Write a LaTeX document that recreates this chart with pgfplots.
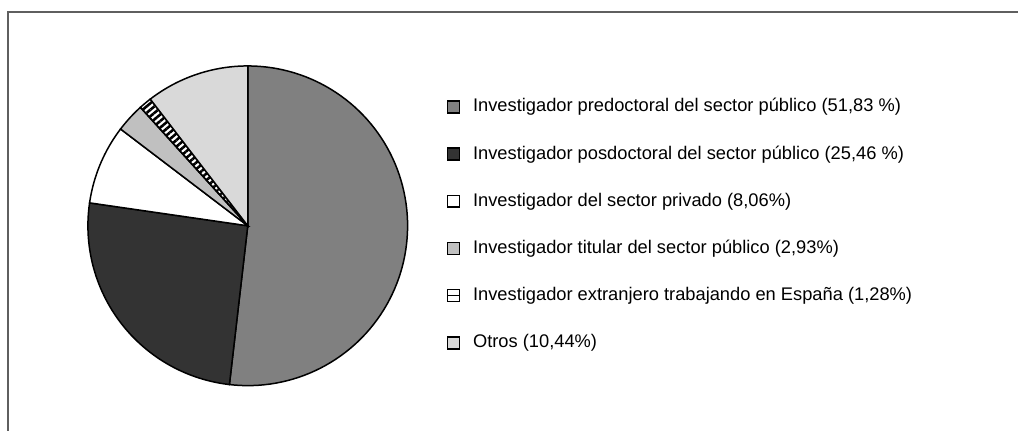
\documentclass[border=0pt]{standalone}
\usepackage{pgfplots}
\pgfplotsset{compat=1.18}
\usepackage{fontspec}
\setmainfont{Liberation Sans}
\usetikzlibrary{patterns.meta}
\definecolor{cA}{RGB}{128,128,128}
\definecolor{cB}{RGB}{51,51,51}
\definecolor{cC}{RGB}{255,255,255}
\definecolor{cD}{RGB}{192,192,192}
\definecolor{cF}{RGB}{217,217,217}
\definecolor{frame}{RGB}{95,95,95}
% shares in percent
\def\pA{51.83}\def\pB{25.46}\def\pC{8.06}\def\pD{2.93}\def\pE{1.28}\def\pF{10.44}
\pgfmathsetmacro\aA{90}
\pgfmathsetmacro\aB{\aA-3.6*\pA}
\pgfmathsetmacro\aC{\aB-3.6*\pB}
\pgfmathsetmacro\aD{\aC-3.6*\pC}
\pgfmathsetmacro\aE{\aD-3.6*\pD}
\pgfmathsetmacro\aF{\aE-3.6*\pE}
\pgfmathsetmacro\aG{\aF-3.6*\pF}
\begin{document}
\begin{tikzpicture}
\begin{axis}[
  scale only axis, width=1019bp, height=431bp,
  xmin=0, xmax=1019, ymin=0, ymax=431,
  hide axis, clip=false,
  legend cell align=left,
  legend image code/.code={
    \draw[#1, line width=1.6bp, draw=black] (0bp,-6bp) rectangle (12bp,6bp);
    \path (25bp,0bp);},
  legend style={at={(axis cs:447,332.9)}, anchor=north west, draw=none, fill=none,
    inner sep=0pt, outer sep=0pt, row sep=29.2bp, column sep=0pt,
    nodes={inner sep=0pt, outer sep=0pt, text height=14bp, text depth=4bp},
    font=\fontsize{18.3bp}{22bp}\selectfont},
]
\addplot[draw=black, line width=1.5bp, fill=cA, domain=\aB:\aA, samples=90]
  ({248+160*cos(x)},{205+160*sin(x)}) -- (axis cs:248,205) -- cycle;
\addlegendentry{Investigador predoctoral del sector público (51,83 \%)}
\addplot[draw=black, line width=1.5bp, fill=cB, domain=\aC:\aB, samples=60]
  ({248+160*cos(x)},{205+160*sin(x)}) -- (axis cs:248,205) -- cycle;
\addlegendentry{Investigador posdoctoral del sector público (25,46 \%)}
\addplot[draw=black, line width=1.5bp, fill=cC, domain=\aD:\aC, samples=20]
  ({248+160*cos(x)},{205+160*sin(x)}) -- (axis cs:248,205) -- cycle;
\addlegendentry{Investigador del sector privado (8,06\%)}
\addplot[draw=black, line width=1.5bp, fill=cD, domain=\aE:\aD, samples=10]
  ({248+160*cos(x)},{205+160*sin(x)}) -- (axis cs:248,205) -- cycle;
\addlegendentry{Investigador titular del sector público (2,93\%)}
\addplot[draw=black, line width=1.5bp, pattern={Lines[angle=40,distance=5bp,line width=2.6bp]}, domain=\aF:\aE, samples=6,
  legend image code/.code={
    \draw[line width=1.6bp, draw=black, fill=white] (0bp,-6bp) rectangle (12bp,6bp);
    \draw[line width=1.6bp] (0bp,0bp) -- (12bp,0bp);
    \path (25bp,0bp);}]
  ({248+160*cos(x)},{205+160*sin(x)}) -- (axis cs:248,205) -- cycle;
\addlegendentry{Investigador extranjero trabajando en España (1,28\%)}
\addplot[draw=black, line width=1.5bp, fill=cF, domain=\aG:\aF, samples=30]
  ({248+160*cos(x)},{205+160*sin(x)}) -- (axis cs:248,205) -- cycle;
\addlegendentry{Otros (10,44\%)}
\draw[frame, line width=2bp] (axis cs:8.5,0) -- (axis cs:8.5,419) -- (axis cs:1019,419);
\path (axis cs:0,0) rectangle (axis cs:1019,431);
\end{axis}
\end{tikzpicture}
\end{document}
